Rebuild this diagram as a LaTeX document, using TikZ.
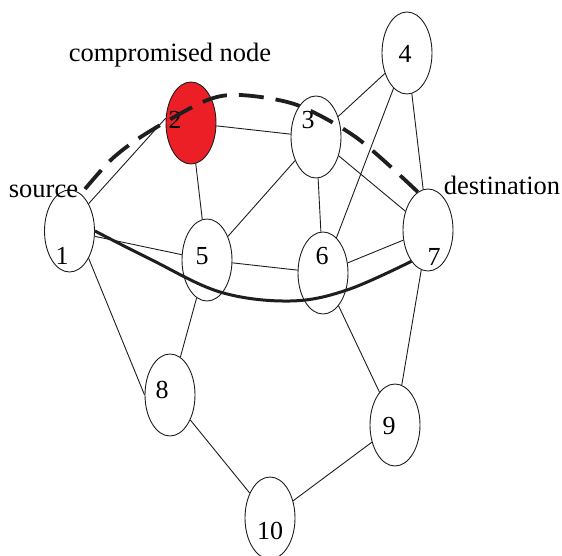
\documentclass[tikz,border=0pt]{standalone}
\usepackage{fontspec}
\setmainfont{Liberation Serif}
\usetikzlibrary{shapes.geometric}
\definecolor{alarm}{RGB}{236,30,38}
\definecolor{ink}{RGB}{30,30,30}
\tikzset{
  vertex/.style={ellipse, draw=ink, line width=0.9pt, fill=white,
    minimum width=50pt, minimum height=82pt, inner sep=0pt},
  badvertex/.style={vertex, fill=alarm},
  num/.style={font=\fontsize{26}{26}\selectfont, anchor=base, inner sep=0pt},
  caption/.style={font=\fontsize{26.5}{26.5}\selectfont, anchor=base, inner sep=0pt},
  link/.style={draw=ink, line width=0.9pt},
  attackpath/.style={draw=ink, line width=3.8pt, dash pattern=on 25pt off 12pt},
  safepath/.style={draw=ink, line width=3pt},
}
\begin{document}
\begin{tikzpicture}[x=1pt, y=-1pt]
\useasboundingbox (0,0) rectangle (562,556);

% routers
\node[vertex]    (n1)  at (69.5,231) {};
\node[badvertex] (n2)  at (191,123) {};
\node[vertex]    (n3)  at (316,137) {};
\node[vertex]    (n4)  at (407,53) {};
\node[vertex]    (n5)  at (207,260) {};
\node[vertex]    (n6)  at (323,273) {};
\node[vertex]    (n7)  at (428,230) {};
\node[vertex]    (n8)  at (170,395) {};
\node[vertex]    (n9)  at (395,425) {};
\node[vertex]    (n10) at (270,518) {};

% links
\path[link] (n1.55) -- (n2.169);
\path[link] (n1) -- (n5);
\path[link] (n1.-55) -- (n8.180);
\path[link] (n2) -- (n3);
\path[link] (n2) -- (n5);
\path[link] (n3) -- (n4);
\path[link] (n3) -- (n5);
\path[link] (n3) -- (n6);
\path[link] (n3) -- (n7);
\path[link] (n4) -- (n6);
\path[link] (n4) -- (n7);
\path[link] (n5) -- (n6);
\path[link] (n5) -- (n8);
\path[link] (n6) -- (n7);
\path[link] (n6) -- (n9);
\path[link] (n7) -- (n9);
\path[link] (n8) -- (n10);
\path[link] (n9) -- (n10);

% node numbers
\node[num] (l1)  at (62,264)  {1};
\node[num] (l2)  at (175,129) {2};
\node[num] (l3)  at (308,129) {3};
\node[num] (l4)  at (405,63)  {4};
\node[num] (l5)  at (202,264) {5};
\node[num] (l6)  at (322,264) {6};
\node[num] (l7)  at (434,265) {7};
\node[num] (l8)  at (162,398) {8};
\node[num] (l9)  at (389,434) {9};
\node[num] (l10) at (270,539) {10};

% routes from source to destination
\coordinate (s0) at (85,189);
\draw[attackpath] plot[smooth, tension=0.5] coordinates
  {(s0) (113,158) (147,133) (205,101) (240,95) (297,105) (357,138) (n7.105)};
\draw[safepath] plot[smooth, tension=0.6] coordinates
  {(n1.east) (150,259) (220,292) (290,301) (347,290) (n7.242)};

% captions
\node[caption] (tc) at (170,62)  {compromised node};
\node[caption] (ts) at (43.5,197) {source};
\node[caption] (td) at (502,195) {destination};
\end{tikzpicture}
\end{document}
